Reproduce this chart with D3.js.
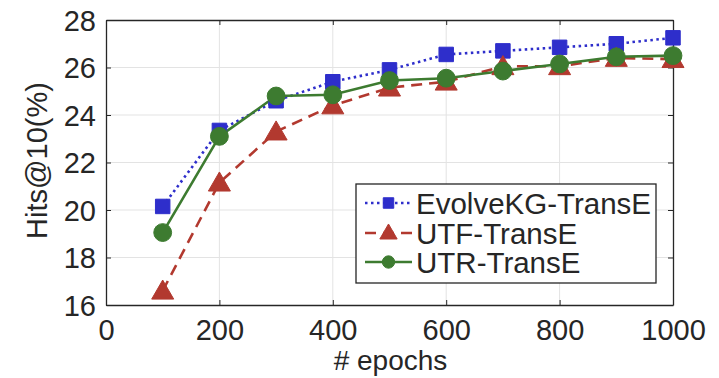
<!DOCTYPE html>
<html><head><meta charset="utf-8">
<script src="https://cdn.jsdelivr.net/npm/d3@7"></script>
<style>body{margin:0;background:#fff}svg{display:block}text{font-family:"Liberation Sans",Arial,sans-serif;fill:#262626}</style>
</head><body>
<script>
const epochs = [100,200,300,400,500,600,700,800,900,1000];
const evolveKG = [20.15,23.35,24.6,25.4,25.9,26.55,26.7,26.85,27.0,27.25];
const utf = [16.6,21.15,23.3,24.4,25.15,25.4,26.05,26.05,26.4,26.35];
const utr = [19.05,23.1,24.8,24.85,25.45,25.55,25.85,26.15,26.45,26.5];
const xTicks = [0,200,400,600,800,1000];
const yTicks = [16,18,20,22,24,26,28];
const seriesNames = ["EvolveKG-TransE","UTF-TransE","UTR-TransE"];

const W=719,H=378;
const svg=d3.select("body").append("svg").attr("width",W).attr("height",H);
const m={l:106,t:20,r:673,b:305};
const x=d3.scaleLinear().domain([0,1000]).range([m.l,m.r]);
const y=d3.scaleLinear().domain([16,28]).range([m.b,m.t]);

// grid
svg.append("g").selectAll("line").data(xTicks.slice(1,-1)).join("line")
 .attr("x1",d=>x(d)).attr("x2",d=>x(d)).attr("y1",m.t).attr("y2",m.b).attr("stroke","#e3e3e3").attr("stroke-width",1);
svg.append("g").selectAll("line").data(yTicks.slice(1,-1)).join("line")
 .attr("y1",d=>y(d)).attr("y2",d=>y(d)).attr("x1",m.l).attr("x2",m.r).attr("stroke","#e3e3e3").attr("stroke-width",1);

// axes
const ax=d3.axisBottom(x).tickValues(xTicks).tickFormat(d3.format("d")).tickSizeInner(-5).tickSizeOuter(0).tickPadding(14);
const gx=svg.append("g").attr("transform",`translate(0,${m.b})`).call(ax);
const ay=d3.axisLeft(y).tickValues(yTicks).tickFormat(d3.format("d")).tickSizeInner(-5).tickSizeOuter(0).tickPadding(10);
const gy=svg.append("g").attr("transform",`translate(${m.l},0)`).call(ay);
const axT=d3.axisTop(x).tickValues(xTicks).tickSizeInner(-5).tickSizeOuter(0).tickFormat("");
svg.append("g").attr("transform",`translate(0,${m.t})`).call(axT);
const ayR=d3.axisRight(y).tickValues(yTicks).tickSizeInner(-5).tickSizeOuter(0).tickFormat("");
svg.append("g").attr("transform",`translate(${m.r},0)`).call(ayR);
svg.selectAll(".domain").attr("stroke","#262626").attr("stroke-width",1.3);
svg.selectAll(".tick line").attr("stroke","#262626").attr("stroke-width",1);
gx.selectAll("text").style("font-size","29px").attr("fill","#262626");
gy.selectAll("text").style("font-size","29px").attr("fill","#262626").attr("dy","0.36em");
gx.selectAll(".tick text").attr("dy","0.71em");

svg.append("text").attr("x",(m.l+m.r)/2+1).attr("y",370).attr("text-anchor","middle").style("font-size","28px").text("# epochs");
svg.append("text").attr("transform",`translate(47,${(m.t+m.b)/2-2}) rotate(-90)`).attr("text-anchor","middle").style("font-size","29px").text("Hits@10(%)");

const colors=["#2e2ecb","#b2392f","#3d7b30"];
const dashes=["2.5,3.5","11,7",null];
const data=[evolveKG,utf,utr];
const line=d3.line().x((d,i)=>x(epochs[i])).y(d=>y(d));
const sym=[d3.symbolSquare,d3.symbolTriangle,d3.symbolCircle];
const symSize=[210,210,250];

data.forEach((s,k)=>{
  svg.append("path").datum(s).attr("d",line).attr("fill","none").attr("stroke",colors[k])
   .attr("stroke-width",2.6).attr("stroke-dasharray",dashes[k]);
});
data.forEach((s,k)=>{
  svg.append("g").selectAll("path").data(s).join("path")
   .attr("transform",(d,i)=>`translate(${x(epochs[i])},${y(d)+(k===1?2:0)})`)
   .attr("d",d3.symbol().type(sym[k]).size(symSize[k])).attr("fill",colors[k]).attr("stroke",colors[k]).attr("stroke-width",1);
});

// legend
const lg=svg.append("g");
lg.append("rect").attr("x",356).attr("y",184).attr("width",300).attr("height",99).attr("fill","#fff").attr("stroke","#262626").attr("stroke-width",1.3);
const rows=[203,233,262];
seriesNames.forEach((n,k)=>{
  lg.append("line").attr("x1",365).attr("x2",412).attr("y1",rows[k]).attr("y2",rows[k]).attr("stroke",colors[k]).attr("stroke-width",2.6).attr("stroke-dasharray",dashes[k]);
  lg.append("path").attr("transform",`translate(388.5,${rows[k]+(k===1?1:0)})`).attr("d",d3.symbol().type(sym[k]).size([110,130,120][k])).attr("fill",colors[k]).attr("stroke",colors[k]);
  lg.append("text").attr("x",416).attr("y",rows[k]).attr("dy","0.36em").style("font-size","29.5px").text(n);
});
</script>
</body></html>
